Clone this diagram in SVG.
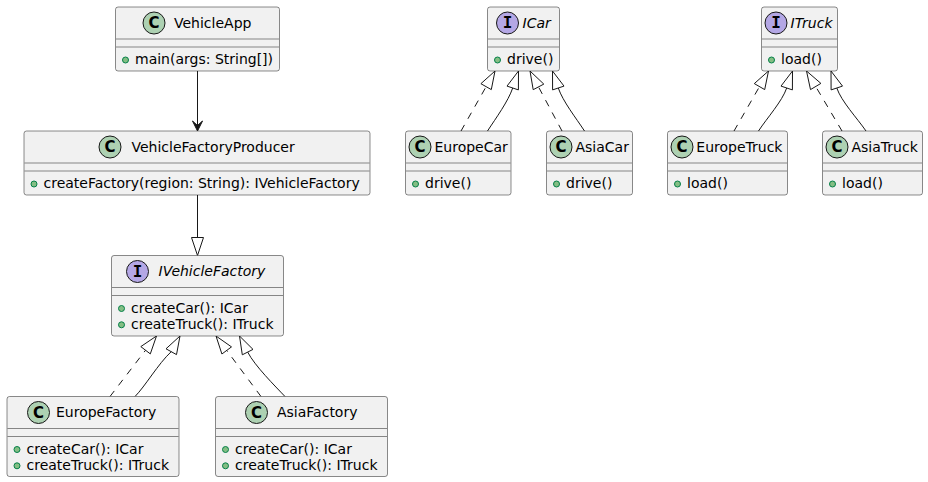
<svg xmlns="http://www.w3.org/2000/svg" width="928" height="482" viewBox="0 0 928 482">
  <style>
    .box { fill: #F1F1F1; stroke: #181818; stroke-width: 0.5; }
    .sep { stroke: #181818; stroke-width: 0.5; }
    .ccls { fill: #ADD1B2; stroke: #181818; stroke-width: 1; }
    .cint { fill: #B4A7E5; stroke: #181818; stroke-width: 1; }
    .glyph { font-family: "DejaVu Sans", sans-serif; font-weight: bold; font-size: 15px; text-anchor: middle; fill: #000; }
    .iglyph { font-family: "DejaVu Sans Mono", monospace; font-weight: bold; font-size: 16px; text-anchor: middle; fill: #000; }
    .t { font-family: "DejaVu Sans", sans-serif; font-size: 14px; fill: #000; }
    .it { font-style: italic; }
    .vis { fill: #84BE84; stroke: #038048; stroke-width: 1; }
    .edge { fill: none; stroke: #181818; stroke-width: 1; }
    .dash { stroke-dasharray: 7,7; }
    .tri { fill: none; stroke: #181818; stroke-width: 1; }
    .head { fill: #181818; stroke: #181818; stroke-width: 1; }
  </style>
  <rect width="928" height="482" fill="#FFFFFF"/>

  <!-- connectors -->
  <g id="connectors">
    <!-- VehicleApp uses VehicleFactoryProducer -->
    <path class="edge" d="M197.5,71 L197.5,130"/>
    <polygon class="head" points="197.5,131 202.5,121 197.5,125.5 192.5,121"/>
    <!-- VehicleFactoryProducer extends IVehicleFactory -->
    <path class="edge" d="M197.5,195 L197.5,237.5"/>
    <polygon class="tri" points="197.5,255.5 191.5,237.5 203.5,237.5"/>

    <!-- factories to IVehicleFactory -->
    <path class="edge dash" d="M110,396.5 L145.5,350.3"/>
    <polygon class="tri" points="156.5,336 150.3,353.9 140.8,346.6"/>
    <path class="edge" d="M135,396.5 C145,386.5 158,364 171.2,351.7"/>
    <polygon class="tri" points="180,336 176.5,354.6 166,348.8"/>
    <path class="edge dash" d="M261,396.5 L226.7,350.4"/>
    <polygon class="tri" points="216,336 231.5,346.9 221.9,354"/>
    <path class="edge" d="M285,396.5 C275,386 254.5,365.5 247.7,352.1"/>
    <polygon class="tri" points="239.5,336 253,349.4 242.3,354.8"/>

    <!-- cars to ICar -->
    <path class="edge dash" d="M461,131 L486.1,86.7"/>
    <polygon class="tri" points="495,71 491.3,89.6 480.9,83.7"/>
    <path class="edge" d="M487.5,131 C496,118 508.2,101.3 512.7,88"/>
    <polygon class="tri" points="518.5,71 518.4,89.9 507,86.1"/>
    <path class="edge dash" d="M562,131 L538.5,86.9"/>
    <polygon class="tri" points="530,71 543.8,84.1 533.2,89.7"/>
    <path class="edge" d="M584.5,131 C576,118 562.8,101.3 558.3,88"/>
    <polygon class="tri" points="552.5,71 564,86.1 552.6,89.9"/>

    <!-- trucks to ITruck -->
    <path class="edge dash" d="M734,131 L759.5,86.6"/>
    <polygon class="tri" points="768.5,71 764.7,89.6 754.3,83.6"/>
    <path class="edge" d="M758.5,131 C767,118 782.2,101.3 786.7,88"/>
    <polygon class="tri" points="792.5,71 792.4,89.9 781,86.1"/>
    <path class="edge dash" d="M842,131 L815.7,86.5"/>
    <polygon class="tri" points="806.5,71 820.9,83.4 810.5,89.6"/>
    <path class="edge" d="M866,131 C857,118 841.3,101.3 836.8,88"/>
    <polygon class="tri" points="831,71 842.5,86.1 831.1,89.9"/>
  </g>

  <!-- VehicleApp -->
  <g id="VehicleApp">
    <rect class="box" x="115.5" y="7" width="164" height="64" rx="2.5"/>
    <circle class="ccls" cx="154" cy="23" r="11"/>
    <text class="glyph" x="154" y="28.4">C</text>
    <text class="t" x="174" y="27.9">VehicleApp</text>
    <line class="sep" x1="116" y1="39" x2="279" y2="39"/>
    <line class="sep" x1="116" y1="47" x2="279" y2="47"/>
    <circle class="vis" cx="125.5" cy="60" r="3"/>
    <text class="t" x="135" y="64.1">main(args: String[])</text>
  </g>

  <!-- VehicleFactoryProducer -->
  <g id="VehicleFactoryProducer">
    <rect class="box" x="24" y="131" width="346" height="64" rx="2.5"/>
    <circle class="ccls" cx="110" cy="147" r="11"/>
    <text class="glyph" x="110" y="152.4">C</text>
    <text class="t" x="131.5" y="151.9">VehicleFactoryProducer</text>
    <line class="sep" x1="24.5" y1="163" x2="369.5" y2="163"/>
    <line class="sep" x1="24.5" y1="171" x2="369.5" y2="171"/>
    <circle class="vis" cx="34" cy="184" r="3"/>
    <text class="t" x="43.5" y="188.1">createFactory(region: String): IVehicleFactory</text>
  </g>

  <!-- IVehicleFactory -->
  <g id="IVehicleFactory">
    <rect class="box" x="111.5" y="255.5" width="172" height="80.5" rx="2.5"/>
    <circle class="cint" cx="137.5" cy="271.5" r="11"/>
    <text class="iglyph" x="137.5" y="276.9">I</text>
    <text class="t it" x="158.5" y="276.4">IVehicleFactory</text>
    <line class="sep" x1="112" y1="287.5" x2="283" y2="287.5"/>
    <line class="sep" x1="112" y1="295.5" x2="283" y2="295.5"/>
    <circle class="vis" cx="121.5" cy="308.5" r="3"/>
    <text class="t" x="131" y="312.6">createCar(): ICar</text>
    <circle class="vis" cx="121.5" cy="324.8" r="3"/>
    <text class="t" x="131" y="328.9">createTruck(): ITruck</text>
  </g>

  <!-- EuropeFactory -->
  <g id="EuropeFactory">
    <rect class="box" x="7" y="396.5" width="172" height="80" rx="2.5"/>
    <circle class="ccls" cx="38.5" cy="412.5" r="11"/>
    <text class="glyph" x="38.5" y="417.9">C</text>
    <text class="t" x="56" y="417.4">EuropeFactory</text>
    <line class="sep" x1="7.5" y1="428.5" x2="178.5" y2="428.5"/>
    <line class="sep" x1="7.5" y1="436.5" x2="178.5" y2="436.5"/>
    <circle class="vis" cx="17" cy="449.5" r="3"/>
    <text class="t" x="26.5" y="453.6">createCar(): ICar</text>
    <circle class="vis" cx="17" cy="465.8" r="3"/>
    <text class="t" x="26.5" y="469.9">createTruck(): ITruck</text>
  </g>

  <!-- AsiaFactory -->
  <g id="AsiaFactory">
    <rect class="box" x="215.5" y="396.5" width="172" height="80" rx="2.5"/>
    <circle class="ccls" cx="256.5" cy="412.5" r="11"/>
    <text class="glyph" x="256.5" y="417.9">C</text>
    <text class="t" x="277" y="417.4">AsiaFactory</text>
    <line class="sep" x1="216" y1="428.5" x2="387" y2="428.5"/>
    <line class="sep" x1="216" y1="436.5" x2="387" y2="436.5"/>
    <circle class="vis" cx="225.5" cy="449.5" r="3"/>
    <text class="t" x="235" y="453.6">createCar(): ICar</text>
    <circle class="vis" cx="225.5" cy="465.8" r="3"/>
    <text class="t" x="235" y="469.9">createTruck(): ITruck</text>
  </g>

  <!-- ICar -->
  <g id="ICar">
    <rect class="box" x="487.5" y="7" width="72" height="64" rx="2.5"/>
    <circle class="cint" cx="507.5" cy="23" r="11"/>
    <text class="iglyph" x="507.5" y="28.4">I</text>
    <text class="t it" x="522.5" y="27.9">ICar</text>
    <line class="sep" x1="488" y1="39" x2="559" y2="39"/>
    <line class="sep" x1="488" y1="47" x2="559" y2="47"/>
    <circle class="vis" cx="497.5" cy="60" r="3"/>
    <text class="t" x="507" y="64.1">drive()</text>
  </g>

  <!-- EuropeCar -->
  <g id="EuropeCar">
    <rect class="box" x="405.5" y="131" width="105.5" height="64" rx="2.5"/>
    <circle class="ccls" cx="420" cy="147" r="11"/>
    <text class="glyph" x="420" y="152.4">C</text>
    <text class="t" x="434.5" y="151.9">EuropeCar</text>
    <line class="sep" x1="406" y1="163" x2="510.5" y2="163"/>
    <line class="sep" x1="406" y1="171" x2="510.5" y2="171"/>
    <circle class="vis" cx="415.5" cy="184" r="3"/>
    <text class="t" x="425" y="188.1">drive()</text>
  </g>

  <!-- AsiaCar -->
  <g id="AsiaCar">
    <rect class="box" x="546.5" y="131" width="86" height="64" rx="2.5"/>
    <circle class="ccls" cx="561" cy="147" r="11"/>
    <text class="glyph" x="561" y="152.4">C</text>
    <text class="t" x="575.5" y="151.9">AsiaCar</text>
    <line class="sep" x1="547" y1="163" x2="632" y2="163"/>
    <line class="sep" x1="547" y1="171" x2="632" y2="171"/>
    <circle class="vis" cx="556.5" cy="184" r="3"/>
    <text class="t" x="566" y="188.1">drive()</text>
  </g>

  <!-- ITruck -->
  <g id="ITruck">
    <rect class="box" x="761.5" y="7" width="76" height="64" rx="2.5"/>
    <circle class="cint" cx="776" cy="23" r="11"/>
    <text class="iglyph" x="776" y="28.4">I</text>
    <text class="t it" x="790.5" y="27.9">ITruck</text>
    <line class="sep" x1="762" y1="39" x2="837" y2="39"/>
    <line class="sep" x1="762" y1="47" x2="837" y2="47"/>
    <circle class="vis" cx="771.5" cy="60" r="3"/>
    <text class="t" x="781" y="64.1">load()</text>
  </g>

  <!-- EuropeTruck -->
  <g id="EuropeTruck">
    <rect class="box" x="667.5" y="131" width="120" height="64" rx="2.5"/>
    <circle class="ccls" cx="682" cy="147" r="11"/>
    <text class="glyph" x="682" y="152.4">C</text>
    <text class="t" x="696.3" y="151.9">EuropeTruck</text>
    <line class="sep" x1="668" y1="163" x2="787" y2="163"/>
    <line class="sep" x1="668" y1="171" x2="787" y2="171"/>
    <circle class="vis" cx="677.5" cy="184" r="3"/>
    <text class="t" x="687" y="188.1">load()</text>
  </g>

  <!-- AsiaTruck -->
  <g id="AsiaTruck">
    <rect class="box" x="822.5" y="131" width="100" height="64" rx="2.5"/>
    <circle class="ccls" cx="837" cy="147" r="11"/>
    <text class="glyph" x="837" y="152.4">C</text>
    <text class="t" x="851.5" y="151.9">AsiaTruck</text>
    <line class="sep" x1="823" y1="163" x2="922" y2="163"/>
    <line class="sep" x1="823" y1="171" x2="922" y2="171"/>
    <circle class="vis" cx="832.5" cy="184" r="3"/>
    <text class="t" x="842" y="188.1">load()</text>
  </g>
</svg>
